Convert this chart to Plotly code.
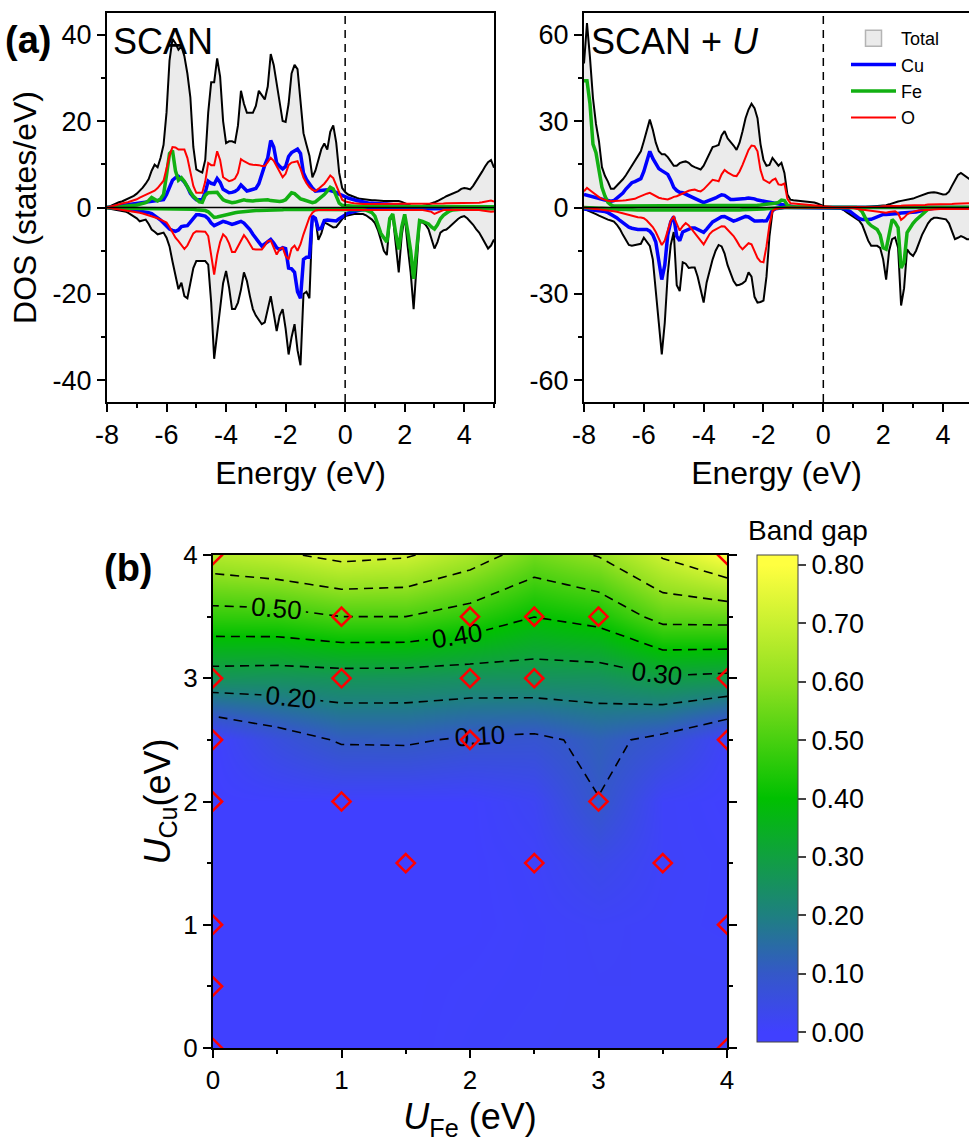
import plotly.graph_objects as go

# ---------------- DATA ----------------
ENERGY = [
    -8.0, -7.9, -7.8, -7.7, -7.6, -7.5, -7.4, -7.3, -7.2, -7.1,
    -7.0, -6.9, -6.8, -6.7, -6.6, -6.5, -6.4, -6.3, -6.2, -6.1,
    -6.0, -5.9, -5.8, -5.7, -5.6, -5.5, -5.4, -5.3, -5.2, -5.1,
    -5.0, -4.9, -4.8, -4.7, -4.6, -4.5, -4.4, -4.3, -4.2, -4.1,
    -4.0, -3.9, -3.8, -3.7, -3.6, -3.5, -3.4, -3.3, -3.2, -3.1,
    -3.0, -2.9, -2.8, -2.7, -2.6, -2.5, -2.4, -2.3, -2.2, -2.1,
    -2.0, -1.9, -1.8, -1.7, -1.6, -1.5, -1.4, -1.3, -1.2, -1.1,
    -1.0, -0.9, -0.8, -0.7, -0.6, -0.5, -0.4, -0.3, -0.2, -0.1,
    0.0, 0.1, 0.2, 0.3, 0.4, 0.5, 0.6, 0.7, 0.8, 0.9,
    1.0, 1.1, 1.2, 1.3, 1.4, 1.5, 1.6, 1.7, 1.8, 1.9,
    2.0, 2.1, 2.2, 2.3, 2.4, 2.5, 2.6, 2.7, 2.8, 2.9,
    3.0, 3.1, 3.2, 3.3, 3.4, 3.5, 3.6, 3.7, 3.8, 3.9,
    4.0, 4.1, 4.2, 4.3, 4.4, 4.5, 4.6, 4.7, 4.8, 4.9, 5.0]

# --- SCAN panel ---
SCAN_TOTAL_UP = [
    0, 0.3, 0.6, 1.0, 1.2, 1.4, 1.7, 2.0, 2.3, 2.7,
    3.2, 3.8, 4.6, 5.5, 6.6, 8.5, 9.9, 9.3, 11.5, 14.5,
    22.0, 34.0, 39.0, 38.0, 36.5, 37.3, 35.0, 31.0, 25.5, 14.0,
    8.8, 8.4, 8.1, 11.0, 22.0, 29.0, 29.0, 34.5, 30.3, 20.0,
    14.9, 15.3, 15.3, 15.0, 19.0, 27.0, 24.0, 21.9, 21.9, 21.9,
    23.5, 27.0, 26.0, 25.0, 28.0, 35.5, 33.0, 28.8, 24.0, 20.0,
    19.8, 24.0, 31.0, 33.0, 32.0, 25.0, 17.2, 14.5, 12.0, 7.0,
    8.5, 11.0, 13.5, 14.8, 13.4, 17.5, 19.0, 15.0, 8.0, 4.5,
    3.6, 3.0, 2.7, 2.5, 2.2, 2.0, 1.9, 1.8, 1.8, 1.7,
    1.7, 1.6, 1.6, 1.5, 1.5, 1.5, 1.5, 1.5, 1.5, 1.3,
    1.0, 0.6, 0.4, 0.3, 0.3, 0.3, 0.4, 0.5, 0.7, 0.9,
    1.2, 1.5, 1.8, 2.2, 2.6, 2.9, 3.2, 3.4, 3.8, 4.3,
    4.5, 4.4, 4.2, 5.0, 6.0, 7.0, 8.3, 9.5, 10.5, 11.0, 9.2]
SCAN_TOTAL_DN = [
    -0.2, -0.3, -0.4, -0.5, -0.6, -0.8, -0.9, -1.2, -1.6, -2.0,
    -2.5, -3.2, -3.0, -2.8, -3.8, -5.1, -5.6, -6.2, -6.0, -5.8,
    -7.0, -9.0, -12.5, -15.5, -18.9, -17.4, -20.5, -21.0, -17.0, -14.0,
    -12.4, -12.4, -12.4, -12.4, -13.2, -22.0, -35.0, -29.0, -23.0, -17.5,
    -14.7, -18.5, -23.5, -23.5, -22.0, -19.0, -15.0, -17.0, -20.5, -23.5,
    -25.0, -26.0, -27.0, -26.6, -23.5, -20.5, -24.5, -28.6, -25.0, -23.5,
    -28.0, -34.0, -30.0, -27.0, -33.0, -36.5, -20.0, -19.5, -21.0, -2.5,
    -2.5, -7.5, -6.0, -3.5, -3.8, -4.3, -4.6, -4.5, -3.5, -2.7,
    -2.0, -1.8, -1.6, -1.5, -1.5, -1.5, -1.5, -1.8, -2.2, -2.8,
    -3.6, -5.2, -7.5, -10.0, -11.0, -3.0, -2.0, -8.0, -15.0, -6.5,
    -1.8, -9.0, -15.0, -23.5, -13.0, -3.5, -3.4, -4.0, -5.0, -7.0,
    -9.5, -8.0, -5.8, -5.3, -5.1, -4.5, -3.8, -3.2, -2.6, -2.2,
    -2.0, -2.5, -3.2, -4.0, -5.0, -5.8, -7.0, -8.4, -9.5, -8.8, -7.4]
SCAN_CU_UP = [
    0, 0.1, 0.2, 0.3, 0.4, 0.5, 0.5, 0.6, 0.7, 0.7,
    0.8, 0.9, 1.0, 1.1, 1.3, 1.4, 1.5, 1.6, 1.7, 1.8,
    3.0, 4.8, 6.3, 6.9, 7.2, 6.6, 5.9, 4.8, 3.3, 2.4,
    1.8, 1.8, 1.8, 3.5, 6.1, 5.6, 5.4, 6.7, 5.8, 4.2,
    3.8, 3.4, 3.5, 3.7, 4.2, 5.2, 4.5, 3.8, 4.0, 4.2,
    4.4, 5.5, 7.8, 9.8, 11.5, 15.5, 14.0, 10.3, 9.5, 8.9,
    9.5, 11.8, 12.7, 13.0, 13.5, 12.5, 8.0, 6.5, 5.4, 4.5,
    3.8, 3.9, 4.1, 4.2, 4.1, 3.9, 3.8, 3.5, 3.1, 2.7,
    2.5, 2.2, 1.9, 1.8, 1.6, 1.4, 1.2, 1.1, 1.0, 1.0,
    0.9, 0.9, 0.8, 0.8, 0.8, 0.7, 0.7, 0.7, 0.6, 0.5,
    0.3, 0.1, 0.1, 0.1, 0.1, 0.1, 0.1, 0.1, 0.1, 0.1,
    0.1, 0.1, 0.1, 0.1, 0.1, 0.1, 0.2, 0.2, 0.2, 0.2,
    0.2, 0.2, 0.2, 0.2, 0.2, 0.2, 0.2, 0.2, 0.2, 0.2, 0.2]
SCAN_CU_DN = [
    0, -0.1, -0.1, -0.2, -0.2, -0.3, -0.3, -0.4, -0.5, -0.6,
    -0.7, -0.8, -0.9, -1.0, -1.2, -1.4, -1.8, -2.4, -2.9, -3.6,
    -4.3, -5.0, -5.3, -5.5, -5.2, -4.4, -4.3, -4.2, -3.4, -2.4,
    -1.7, -1.7, -1.8, -2.0, -2.6, -3.6, -4.2, -3.8, -3.4, -3.2,
    -3.4, -3.7, -3.9, -3.7, -3.4, -3.2, -3.6, -4.3, -5.1, -6.2,
    -7.2, -8.2, -8.9, -8.4, -7.8, -7.4, -8.2, -9.3, -9.7, -9.3,
    -9.5, -14.0, -14.2, -15.0, -19.5, -21.0, -12.0, -11.5, -11.5, -2.0,
    -2.5, -5.0, -4.8, -3.0, -2.9, -3.0, -3.2, -3.1, -2.6, -2.1,
    -1.6, -1.3, -1.1, -0.9, -0.7, -0.6, -0.5, -0.4, -0.4, -0.4,
    -0.4, -0.4, -0.3, -0.3, -0.3, -0.3, -0.3, -0.3, -0.3, -0.3,
    -0.3, -0.2, -0.2, -0.2, -0.2, -0.2, -0.2, -0.2, -0.2, -0.2,
    -0.2, -0.2, -0.2, -0.2, -0.2, -0.2, -0.2, -0.2, -0.2, -0.2,
    -0.2, -0.2, -0.2, -0.2, -0.2, -0.2, -0.2, -0.2, -0.2, -0.2, -0.2]
SCAN_FE_UP = [
    0, 0, 0.1, 0.1, 0.2, 0.2, 0.3, 0.3, 0.4, 0.5,
    0.6, 0.7, 0.9, 1.1, 1.6, 2.3, 1.9, 1.5, 2.0, 3.0,
    7.5, 12.5, 13.2, 8.5, 6.3, 6.9, 6.0, 4.7, 3.6, 2.6,
    1.9, 1.3, 1.2, 2.8, 3.4, 3.4, 3.3, 3.5, 2.6, 1.8,
    1.5, 1.3, 1.1, 1.2, 1.4, 1.7, 1.8, 1.6, 1.5, 1.5,
    1.6, 1.7, 1.8, 1.8, 1.8, 1.6, 1.5, 1.4, 1.4, 1.5,
    1.8, 2.6, 3.4, 3.2, 2.5, 2.0, 1.8, 1.5, 1.2, 1.1,
    1.3, 1.8, 2.3, 3.0, 3.8, 4.7, 4.3, 2.5, 1.0, 0.5,
    0.4, 0.3, 0.3, 0.3, 0.3, 0.3, 0.3, 0.3, 0.3, 0.3,
    0.3, 0.3, 0.3, 0.3, 0.3, 0.3, 0.3, 0.3, 0.3, 0.3,
    0.3, 0.3, 0.3, 0.3, 0.3, 0.2, 0.2, 0.2, 0.2, 0.2,
    0.2, 0.2, 0.2, 0.2, 0.2, 0.2, 0.2, 0.2, 0.2, 0.2,
    0.2, 0.2, 0.2, 0.2, 0.2, 0.2, 0.2, 0.2, 0.2, 0.2, 0.2]
SCAN_FE_DN = [
    0, -0.1, -0.1, -0.1, -0.2, -0.2, -0.2, -0.2, -0.3, -0.3,
    -0.3, -0.3, -0.3, -0.3, -0.3, -0.3, -0.3, -0.3, -0.3, -0.3,
    -0.3, -0.3, -0.3, -0.3, -0.3, -0.3, -0.3, -0.4, -0.4, -0.4,
    -0.5, -0.5, -0.6, -0.7, -1.0, -1.8, -2.3, -2.2, -2.0, -1.8,
    -1.6, -1.5, -1.3, -1.2, -1.1, -1.0, -0.9, -0.9, -0.8, -0.8,
    -0.7, -0.7, -0.7, -0.6, -0.6, -0.6, -0.5, -0.5, -0.5, -0.5,
    -0.4, -0.4, -0.4, -0.4, -0.4, -0.4, -0.4, -0.4, -0.4, -0.3,
    -0.3, -0.3, -0.3, -0.3, -0.3, -0.3, -0.3, -0.3, -0.3, -0.3,
    -0.3, -0.3, -0.3, -0.4, -0.4, -0.4, -0.5, -0.6, -0.8, -1.2,
    -2.0, -4.0, -6.0, -7.0, -8.0, -2.5, -1.5, -6.0, -9.7, -4.5,
    -1.6, -5.5, -10.0, -16.5, -9.0, -3.0, -3.2, -3.4, -3.8, -4.5,
    -5.0, -4.0, -2.6, -1.8, -1.2, -0.8, -0.6, -0.5, -0.4, -0.3,
    -0.3, -0.3, -0.3, -0.3, -0.3, -0.3, -0.3, -0.3, -0.3, -0.3, -0.3]
SCAN_O_UP = [
    0, 0.2, 0.4, 0.6, 0.8, 0.9, 1.1, 1.2, 1.4, 1.6,
    1.9, 2.3, 2.6, 2.9, 3.2, 3.6, 3.9, 4.5, 5.3, 6.2,
    9.0, 12.0, 14.0, 13.9, 13.4, 13.4, 13.4, 11.5, 8.5, 5.0,
    3.4, 3.4, 3.4, 6.0, 10.3, 9.8, 9.8, 13.0, 11.0, 7.0,
    6.5, 6.1, 6.3, 6.7, 8.0, 11.2, 10.7, 10.3, 10.0, 9.9,
    9.9, 9.8, 9.6, 9.6, 10.5, 11.5, 10.8, 9.5, 8.0, 7.0,
    7.8, 9.8, 10.4, 10.5, 10.7, 9.0, 6.9, 5.6, 4.7, 4.1,
    3.8, 4.3, 4.9, 5.5, 6.4, 7.4, 6.8, 5.0, 3.2, 1.8,
    1.4, 1.2, 1.1, 1.0, 0.9, 0.9, 0.8, 0.8, 0.8, 0.8,
    0.8, 0.8, 0.8, 0.8, 0.8, 0.8, 0.8, 0.8, 0.8, 0.8,
    0.8, 0.8, 0.8, 0.8, 0.8, 0.8, 0.8, 0.8, 0.9, 0.9,
    0.9, 0.9, 0.9, 0.9, 1.0, 1.0, 1.0, 1.0, 1.0, 1.0,
    1.0, 1.0, 1.0, 1.0, 1.1, 1.1, 1.2, 1.3, 1.5, 1.6, 1.4]
SCAN_O_DN = [
    0, -0.1, -0.2, -0.3, -0.4, -0.5, -0.6, -0.7, -0.8, -0.9,
    -1.1, -1.2, -1.4, -1.6, -1.8, -2.0, -2.2, -2.5, -2.8, -3.1,
    -3.5, -4.5, -5.8, -7.0, -7.8, -8.8, -9.6, -8.8, -7.3, -6.0,
    -5.5, -5.5, -5.5, -5.6, -6.6, -11.0, -15.5, -11.0, -8.0, -6.2,
    -6.9, -8.3, -10.3, -10.3, -9.0, -7.6, -6.4, -7.3, -8.6, -9.6,
    -9.7, -9.7, -9.7, -8.8, -7.8, -7.6, -9.4, -10.9, -9.6, -9.3,
    -11.2, -12.0, -9.5, -8.8, -10.0, -8.5, -6.2, -4.3, -2.3, -1.2,
    -0.7, -0.6, -0.6, -0.5, -0.5, -0.5, -0.5, -0.5, -0.5, -0.5,
    -0.5, -0.5, -0.5, -0.5, -0.5, -0.5, -0.5, -0.5, -0.5, -0.5,
    -0.5, -0.5, -0.5, -0.5, -0.5, -0.5, -0.5, -0.5, -0.5, -0.5,
    -0.5, -0.5, -0.5, -0.5, -0.5, -0.5, -0.6, -0.7, -0.8, -1.0,
    -1.5, -1.2, -0.8, -0.6, -0.5, -0.5, -0.5, -0.5, -0.5, -0.5,
    -0.5, -0.5, -0.5, -0.5, -0.6, -0.6, -0.7, -0.8, -1.0, -1.0, -0.9]

# --- SCAN + U panel ---
SCANU_TOTAL_UP = [
    50, 64, 52, 38, 29, 23, 14, 11, 9, 6.5,
    6.5, 7.5, 8.5, 9.8, 11.2, 12.8, 14.5, 16, 17.5, 19.5,
    23, 27, 30.5, 27, 22.5, 19.5, 18.5, 18.5, 17.5, 16,
    14.5, 14.5, 15.4, 15.8, 16, 15.5, 14.5, 14, 13.5, 13.2,
    14.5, 16.6, 19, 21, 21.3, 21.7, 25, 26.5, 24, 22.9,
    21.5, 20, 22.5, 26.5, 31, 34, 36, 34.5, 31, 22,
    16.5, 14.5, 14.8, 17.2, 16, 14.5, 15.5, 12, 4.5, 2.7,
    2.5, 2.4, 2.2, 2.1, 2.0, 1.9, 1.8, 1.7, 1.4, 0.9,
    0.4, 0.1, 0, 0, 0, 0, 0, 0, 0, 0,
    0, 0, 0, 0.1, 0.2, 0.3, 0.4, 0.4, 0.5, 0.5,
    0.6, 0.8, 1.1, 1.5, 1.8, 2.1, 2.3, 2.5, 2.7, 2.8,
    3.1, 3.5, 3.9, 4.3, 4.7, 5.0, 5.2, 5.3, 5.1, 4.8,
    4.5, 4.6, 5.5, 7.5, 9.5, 11.3, 12, 11.2, 10.3, 9.5, 9.0]
SCANU_TOTAL_DN = [
    -0.5, -0.9, -1.3, -1.8, -2.3, -2.8, -3.3, -3.8, -4.2, -4.5,
    -4.9, -6.0, -7.5, -9.5, -11.5, -13.0, -13.3, -13.1, -12.9, -12.6,
    -10.5, -12.0, -13.3, -18.0, -28.0, -40.0, -51.0, -40.0, -23.0, -13.0,
    -8.5, -27.0, -29.0, -19.0, -19.5, -21.0, -20.8, -20.8, -24.0, -28.0,
    -33.0, -26.0, -21.5, -18.0, -15.0, -13.0, -13.5, -16.0, -20.0, -23.0,
    -25.5, -27.0, -26.8, -26.3, -25.5, -22.5, -24.0, -31.0, -33.0, -32.8,
    -32.3, -24.0, -10.0, -1.5, -0.5, -0.3, -0.2, -0.1, 0, 0,
    0, 0, 0, 0, 0, 0, 0, 0, 0, 0,
    0, 0, 0, 0, 0, 0, -0.5, -1.0, -1.8, -2.5,
    -3.2, -4.0, -4.6, -6.0, -8.5, -11.5, -13.3, -13.3, -13.3, -14.0,
    -18.0, -25.0, -15.0, -11.0, -10.4, -14.0, -34.0, -28.0, -14.5, -16.0,
    -16.8, -15.0, -12.0, -9.5, -7.5, -5.5, -4.2, -3.6, -3.6, -3.8,
    -4.0, -4.1, -5.5, -8.5, -11.0, -10.5, -9.9, -10.4, -11.0, -11.0, -11.0]
SCANU_CU_UP = [
    4.5, 4.2, 4.0, 3.9, 3.5, 3.2, 2.9, 2.6, 2.4, 2.2,
    2.4, 3.2, 3.9, 5.0, 6.4, 7.5, 8.6, 9.0, 9.4, 10.0,
    12.5, 16.0, 19.5, 17.0, 15.0, 13.5, 12.8, 12.2, 11.5, 9.5,
    7.0, 5.9, 5.3, 5.1, 4.6, 4.1, 3.6, 3.1, 2.5, 1.9,
    1.7, 2.1, 2.4, 2.8, 3.3, 3.9, 4.4, 4.2, 3.4, 2.8,
    2.8, 2.8, 2.8, 2.9, 3.1, 3.3, 3.3, 3.0, 2.6, 2.3,
    2.2, 2.0, 1.8, 1.6, 1.4, 1.2, 1.0, 0.8, 0.6, 0.4,
    0.2, 0.1, 0.1, 0.1, 0.1, 0.1, 0, 0, 0, 0,
    0, 0, 0, 0, 0, 0, 0, 0, 0, 0,
    0, 0, 0, 0, 0, 0, 0, 0, 0, 0,
    0, 0, 0, 0, 0, 0, 0, 0, 0, 0,
    0, 0, 0, 0, 0, 0, 0, 0, 0, 0,
    0, 0, 0, 0, 0, 0, 0, 0, 0, 0, 0]
SCANU_CU_DN = [
    -0.5, -0.6, -0.7, -0.8, -0.9, -1.1, -1.2, -1.4, -1.8, -2.3,
    -3.0, -3.6, -4.5, -5.4, -6.2, -6.8, -7.2, -7.5, -7.6, -7.6,
    -7.6, -7.6, -8.2, -9.5, -12.0, -18.0, -25.0, -20.0, -9.5, -5.0,
    -3.2, -10.0, -11.5, -8.5, -8.0, -7.5, -7.1, -7.1, -7.5, -8.2,
    -8.6, -7.5, -6.2, -5.0, -4.4, -3.8, -3.2, -3.1, -3.6, -4.2,
    -4.7, -4.4, -4.0, -3.5, -3.1, -3.3, -4.2, -4.7, -4.7, -4.7,
    -4.7, -4.6, -2.8, -0.9, -0.4, -0.2, -0.1, 0, 0, 0,
    0, 0, 0, 0, 0, 0, 0, 0, 0, 0,
    0, 0, 0, 0, 0, 0, -0.3, -0.5, -0.8, -1.4,
    -2.2, -3.0, -3.8, -4.2, -4.3, -4.2, -4.1, -3.6, -3.1, -2.7,
    -2.4, -2.4, -2.4, -2.4, -2.3, -2.1, -1.9, -1.8, -1.8, -1.8,
    -1.8, -1.6, -1.3, -1.0, -0.8, -0.6, -0.4, -0.3, -0.2, -0.2,
    -0.2, -0.2, -0.2, -0.2, -0.2, -0.2, -0.2, -0.2, -0.2, -0.2, -0.2]
SCANU_FE_UP = [
    44, 44, 36, 22, 19, 12.5, 7.0, 4.0, 1.8, 0.9,
    0.5, 0.5, 0.5, 0.5, 0.6, 0.6, 0.6, 0.6, 0.6, 0.6,
    0.6, 0.6, 0.6, 0.6, 0.6, 0.6, 0.6, 0.6, 0.6, 0.6,
    0.6, 0.6, 0.6, 0.6, 0.6, 0.6, 0.6, 0.6, 0.6, 0.6,
    0.6, 0.6, 0.6, 0.6, 0.6, 0.6, 0.6, 0.6, 0.6, 0.6,
    0.6, 0.6, 0.6, 0.6, 0.7, 0.7, 0.7, 0.8, 0.8, 0.9,
    1.0, 1.0, 1.1, 1.3, 1.5, 1.8, 2.6, 2.4, 0.8, 0.3,
    0.2, 0.2, 0.2, 0.2, 0.2, 0.1, 0.1, 0.1, 0.1, 0.1,
    0, 0, 0, 0, 0, 0, 0, 0, 0, 0,
    0, 0, 0, 0, 0, 0, 0, 0, 0, 0,
    0, 0, 0, 0, 0, 0, 0, 0, 0, 0,
    0.1, 0.1, 0.1, 0.1, 0.1, 0.1, 0.1, 0.1, 0.1, 0.1,
    0.1, 0.1, 0.1, 0.1, 0.1, 0.1, 0.1, 0.1, 0.1, 0.1, 0.1]
SCANU_FE_DN = [
    0, -0.1, -0.1, -0.2, -0.2, -0.3, -0.3, -0.4, -0.4, -0.5,
    -0.5, -0.6, -0.6, -0.7, -0.7, -0.8, -0.8, -0.8, -0.9, -0.9,
    -0.9, -0.9, -1.0, -1.0, -1.0, -1.0, -1.1, -1.1, -1.1, -1.2,
    -1.2, -1.2, -1.2, -1.2, -1.2, -1.1, -1.1, -1.1, -1.1, -1.1,
    -1.1, -1.0, -1.0, -1.0, -1.0, -1.0, -1.0, -1.0, -1.0, -1.0,
    -1.0, -0.9, -0.9, -0.8, -0.8, -0.7, -0.7, -0.6, -0.6, -0.6,
    -0.5, -0.4, -0.3, -0.2, -0.1, 0, 0, 0, 0, 0,
    0, 0, 0, 0, 0, 0, 0, 0, 0, 0,
    0, 0, 0, 0, 0, 0, 0, 0, 0, 0,
    0, 0, -0.5, -1.5, -3.5, -5.3, -6.3, -7.0, -7.6, -9.5,
    -14.0, -14.5, -8.5, -4.2, -5.2, -7.0, -21.0, -19.0, -8.7, -7.0,
    -5.5, -4.3, -3.3, -2.2, -1.2, -0.6, -0.3, -0.1, -0.1, -0.1,
    -0.1, -0.1, -0.1, -0.1, -0.1, -0.1, -0.1, -0.1, -0.1, -0.1, -0.1]
SCANU_O_UP = [
    5.6, 6.8, 6.0, 5.1, 4.3, 3.6, 3.0, 2.6, 2.3, 2.2,
    2.2, 2.2, 2.2, 2.4, 2.5, 2.6, 2.7, 3.0, 3.5, 4.0,
    4.5, 4.8, 5.1, 4.5, 3.8, 3.4, 3.1, 2.9, 2.8, 3.2,
    3.7, 3.9, 4.4, 5.0, 5.5, 5.8, 6.1, 6.2, 5.8, 5.6,
    6.3, 7.4, 8.5, 9.6, 9.4, 9.1, 11.5, 13.0, 12.2, 11.5,
    11.0, 10.9, 12.5, 14.8, 17.5, 20.0, 21.5, 21.3, 19.5, 13.0,
    9.7, 9.0, 8.5, 9.5, 10.0, 8.0, 7.8, 8.3, 3.0, 1.5,
    1.4, 1.3, 1.2, 1.1, 1.0, 0.9, 0.8, 0.7, 0.6, 0.5,
    0.4, 0.2, 0.1, 0.1, 0.1, 0.1, 0.1, 0.1, 0.1, 0.1,
    0.1, 0.1, 0.1, 0.2, 0.2, 0.2, 0.2, 0.3, 0.3, 0.3,
    0.4, 0.4, 0.5, 0.5, 0.5, 0.6, 0.6, 0.7, 0.7, 0.8,
    0.8, 0.8, 0.9, 0.9, 0.9, 1.0, 1.0, 1.0, 1.1, 1.1,
    1.1, 1.1, 1.2, 1.2, 1.3, 1.3, 1.4, 1.4, 1.5, 1.5, 1.5]
SCANU_O_DN = [
    0, -0.2, -0.3, -0.4, -0.5, -0.6, -0.7, -0.8, -0.9, -1.0,
    -1.3, -1.5, -1.8, -2.1, -2.4, -2.6, -2.9, -3.2, -3.4, -3.5,
    -3.7, -4.5, -5.5, -6.8, -8.5, -11.0, -13.0, -11.5, -8.0, -4.5,
    -3.2, -5.5, -8.0, -6.5, -5.4, -6.2, -7.5, -8.5, -10.0, -11.5,
    -12.8, -11.0, -9.2, -8.2, -7.6, -7.0, -6.5, -6.6, -7.8, -9.0,
    -9.9, -11.5, -13.3, -14.5, -13.5, -12.4, -12.8, -15.5, -17.5, -18.8,
    -19.0, -13.5, -6.0, -1.2, -0.5, -0.3, -0.2, 0, 0, 0,
    0, 0, 0, 0, 0, 0, 0, 0, 0, 0,
    0, 0, 0, 0, 0, 0, -0.1, -0.1, -0.1, -0.2,
    -0.2, -0.4, -0.7, -0.8, -0.9, -1.0, -1.1, -1.2, -1.4, -1.5,
    -1.6, -1.8, -1.6, -1.4, -1.3, -2.0, -4.3, -3.5, -2.4, -1.8,
    -1.4, -1.2, -1.0, -0.9, -0.8, -0.7, -0.6, -0.6, -0.5, -0.5,
    -0.5, -0.5, -0.5, -0.5, -0.5, -0.5, -0.5, -0.5, -0.5, -0.5, -0.5]

# --- Band-gap map (b) ---
U_FE = [0, 0.5, 1.0, 1.5, 2.0, 2.5, 3.0, 3.5, 4.0]
U_CU = [0, 0.5, 1.0, 1.5, 2.0, 2.5, 3.0, 3.5, 4.0]
BAND_GAP = [  # rows: U_Cu, columns: U_Fe
    [0, 0, 0, 0, 0.005, 0.008, 0.01, 0.01, 0.01],
    [0, 0, 0, 0, 0.003, 0.006, 0.01, 0.01, 0.01],
    [0, 0, 0, 0, 0, 0.005, 0.012, 0.008, 0.005],
    [0, 0, 0, 0, 0, 0.008, 0.04, 0.01, 0.005],
    [0, 0, 0, 0, 0, 0.02, 0.098, 0.01, 0],
    [0, 0.06, 0.108, 0.11, 0.09, 0.083, 0.12, 0.08, 0.01],
    [0.26, 0.255, 0.262, 0.26, 0.252, 0.254, 0.255, 0.29, 0.279],
    [0.466, 0.47, 0.50, 0.50, 0.46, 0.401, 0.43, 0.53, 0.535],
    [0.658, 0.685, 0.725, 0.71, 0.645, 0.556, 0.605, 0.71, 0.798],
]
CALC_FE = [0, 0, 0, 0, 0, 0, 0, 1, 1, 1, 1.5, 2, 2, 2, 2.5, 2.5, 2.5, 3, 3, 3.5, 4, 4, 4, 4, 4]
CALC_CU = [0, 0.5, 1, 2, 2.5, 3, 4, 2, 3, 3.5, 1.5, 2.5, 3, 3.5, 1.5, 3, 3.5, 2, 3.5, 1.5, 0, 1, 2.5, 3, 4]

CB_VALUES = [0.0, 0.1, 0.2, 0.3, 0.4, 0.5, 0.6, 0.7, 0.8]
CB_COLORS = ['#4040ff', '#3458c8', '#1e8080', '#10a040', '#00c000',
             '#48d010', '#90e020', '#c8f030', '#ffff40']
CB_TICKTEXT = ['0.00', '0.10', '0.20', '0.30', '0.40', '0.50', '0.60', '0.70', '0.80']
ZMIN, ZMAX = -0.017, 0.817

E_TICKS = [-8, -6, -4, -2, 0, 2, 4]
E_TICKTEXT = ['-8', '-6', '-4', '-2', '0', '2', '4']
DOS_TICKS_L = [-40, -20, 0, 20, 40]
DOS_TICKTEXT_L = ['-40', '-20', '0', '20', '40']
DOS_TICKS_R = [-60, -30, 0, 30, 60]
DOS_TICKTEXT_R = ['-60', '-30', '0', '30', '60']
U_TICKS = [0, 1, 2, 3, 4]
U_TICKTEXT = ['0', '1', '2', '3', '4']

# ---------------- FIGURE ----------------
W, H = 969, 1144
FONT = "Liberation Sans, Arial, Helvetica, sans-serif"


def fx(p):
    return p / W


def fy(p):
    return 1 - p / H


CU_COLOR, FE_COLOR, O_COLOR = '#0000ff', '#12b012', '#ff0000'
FILL = '#ebebeb'

fig = go.Figure()


def add_dos(xa, ya, tu, td, cu_u, cu_d, fe_u, fe_d, o_u, o_d):
    for tot in (tu, td):
        fig.add_trace(go.Scatter(x=ENERGY, y=tot, mode='lines', fill='tozeroy',
                                 fillcolor=FILL, line=dict(color='black', width=2),
                                 showlegend=False, xaxis=xa, yaxis=ya, hoverinfo='skip'))
    for up, dn, col, w in ((cu_u, cu_d, CU_COLOR, 3.5), (fe_u, fe_d, FE_COLOR, 3.5),
                           (o_u, o_d, O_COLOR, 2)):
        for arr in (up, dn):
            fig.add_trace(go.Scatter(x=ENERGY, y=arr, mode='lines',
                                     line=dict(color=col, width=w),
                                     showlegend=False, xaxis=xa, yaxis=ya, hoverinfo='skip'))


add_dos('x', 'y', SCAN_TOTAL_UP, SCAN_TOTAL_DN, SCAN_CU_UP, SCAN_CU_DN,
        SCAN_FE_UP, SCAN_FE_DN, SCAN_O_UP, SCAN_O_DN)
add_dos('x2', 'y2', SCANU_TOTAL_UP, SCANU_TOTAL_DN, SCANU_CU_UP, SCANU_CU_DN,
        SCANU_FE_UP, SCANU_FE_DN, SCANU_O_UP, SCANU_O_DN)

# legend-only entries
fig.add_trace(go.Scatter(x=[None], y=[None], mode='markers', name='Total',
                         marker=dict(symbol='square', size=16, color=FILL,
                                     line=dict(color='#b4b4b4', width=1.5)),
                         xaxis='x2', yaxis='y2'))
for nm, col, w in (('Cu', CU_COLOR, 3.5), ('Fe', FE_COLOR, 3.5), ('O', O_COLOR, 2)):
    fig.add_trace(go.Scatter(x=[None], y=[None], mode='lines', name=nm,
                             line=dict(color=col, width=w), xaxis='x2', yaxis='y2'))

# band-gap map
span = ZMAX - ZMIN
cscale = [[0.0, CB_COLORS[0]]]
for v, c in zip(CB_VALUES, CB_COLORS):
    cscale.append([(v - ZMIN) / span, c])
cscale.append([1.0, CB_COLORS[-1]])

fig.add_trace(go.Heatmap(
    x=U_FE, y=U_CU, z=BAND_GAP, zsmooth='best', colorscale=cscale, zmin=ZMIN, zmax=ZMAX,
    xaxis='x3', yaxis='y3', hoverinfo='skip', showlegend=False,
    colorbar=dict(x=fx(757), xanchor='left', y=fy(798.5), yanchor='middle',
                  len=487 / H, lenmode='fraction', thickness=41, thicknessmode='pixels',
                  xpad=0, ypad=0, outlinewidth=1, outlinecolor='#444444',
                  tickmode='array', tickvals=CB_VALUES, ticktext=CB_TICKTEXT,
                  ticks='outside', ticklen=8, tickwidth=1.5, tickcolor='#444444',
                  tickfont=dict(size=27, family=FONT, color='black'))))

for start, end, labels in ((0.1, 0.5, True), (0.6, 0.7, False)):
    fig.add_trace(go.Contour(
        x=U_FE, y=U_CU, z=BAND_GAP, autocontour=False, showscale=False, showlegend=False,
        contours=dict(start=start, end=end, size=0.1, coloring='none', showlabels=labels,
                      labelfont=dict(size=26, family=FONT, color='black'), labelformat='.2f'),
        line=dict(color='black', width=1.6, dash='9px,6px', smoothing=0),
        xaxis='x3', yaxis='y3', hoverinfo='skip'))

fig.add_trace(go.Scatter(x=CALC_FE, y=CALC_CU, mode='markers', cliponaxis=True,
                         marker=dict(symbol='diamond-open', size=14, color='red',
                                     line=dict(color='red', width=2.5)),
                         showlegend=False, xaxis='x3', yaxis='y3', hoverinfo='skip'))

# ---------------- AXES ----------------
TICKFONT = dict(size=27, family=FONT, color='black')
TICKFONT_B = dict(size=26, family=FONT, color='black')
TITLEFONT = dict(size=32, family=FONT, color='black')
TITLEFONT_B = dict(size=36, family=FONT, color='black')


def main_axis(**kw):
    d = dict(showline=True, linewidth=2, linecolor='black', mirror=True,
             ticks='outside', ticklen=8, tickwidth=2, tickcolor='black',
             showgrid=False, zeroline=False, tickfont=TICKFONT, automargin=False,
             tickmode='array')
    d.update(kw)
    return d


def overlay_axis(**kw):
    d = dict(showline=False, showgrid=False, zeroline=False, showticklabels=False,
             ticks='inside', ticklen=8, tickwidth=2, tickcolor='black', automargin=False)
    d.update(kw)
    return d


yd_top = [fy(402), fy(13)]
xd_l = [fx(107), fx(494)]
xd_r = [fx(584), 1.0]
xd_b = [fx(213), fx(727)]
yd_b = [fy(1048), fy(555)]


def minor_out(dt):
    return dict(ticks='outside', ticklen=4, tickwidth=2, tickcolor='black', dtick=dt, tick0=0,
                showgrid=False)


def minor_in(dt):
    return dict(ticks='inside', ticklen=4, tickwidth=2, tickcolor='black', dtick=dt, tick0=0,
                showgrid=False)


fig.update_layout(
    xaxis=main_axis(domain=xd_l, anchor='y', range=[-8, 5], tickvals=E_TICKS, ticktext=E_TICKTEXT,
                    minor=minor_out(1),
                    title=dict(text='Energy (eV)', font=TITLEFONT, standoff=12)),
    yaxis=main_axis(domain=yd_top, anchor='x', range=[-45, 45], tickvals=DOS_TICKS_L,
                    ticktext=DOS_TICKTEXT_L, minor=minor_out(10),
                    title=dict(text='DOS (states/eV)', font=TITLEFONT, standoff=6)),
    xaxis2=main_axis(domain=xd_r, anchor='y2', range=[-8, 4.87], tickvals=E_TICKS, ticktext=E_TICKTEXT,
                     minor=minor_out(1),
                     title=dict(text='Energy (eV)', font=TITLEFONT, standoff=12)),
    yaxis2=main_axis(domain=yd_top, anchor='x2', range=[-67.5, 67.5], tickvals=DOS_TICKS_R,
                     ticktext=DOS_TICKTEXT_R, minor=minor_out(15)),
    xaxis3=main_axis(domain=xd_b, anchor='y3', range=[0, 4], tickvals=U_TICKS, ticktext=U_TICKTEXT,
                     minor=minor_out(0.5), tickfont=TICKFONT_B,
                     title=dict(text='<i>U</i><sub>Fe</sub> (eV)', font=TITLEFONT_B, standoff=10)),
    yaxis3=main_axis(domain=yd_b, anchor='x3', range=[0, 4], tickvals=U_TICKS, ticktext=U_TICKTEXT,
                     minor=minor_out(0.5), mirror='ticks', tickfont=TICKFONT_B,
                     title=dict(text='<i>U</i><sub>Cu</sub>(eV)', font=TITLEFONT_B, standoff=2)),
    xaxis4=overlay_axis(overlaying='x', anchor='y', side='top', range=[-8, 5], tickmode='linear',
                        tick0=-8, dtick=2, minor=minor_in(1)),
    yaxis4=overlay_axis(overlaying='y', anchor='x', side='right', range=[-45, 45], tickmode='linear',
                        tick0=0, dtick=10),
    xaxis5=overlay_axis(overlaying='x2', anchor='y2', side='top', range=[-8, 4.87], tickmode='linear',
                        tick0=-8, dtick=2, minor=minor_in(1)),
    yaxis5=overlay_axis(overlaying='y2', anchor='x2', side='right', range=[-67.5, 67.5],
                        tickmode='linear', tick0=0, dtick=15),
    xaxis6=overlay_axis(overlaying='x3', anchor='y3', side='top', range=[0, 4], tickmode='linear',
                        tick0=0, dtick=0.5, ticklen=6),
)

fig.update_layout(
    width=W, height=H, template='none',
    margin=dict(l=0, r=0, t=0, b=0, pad=0),
    paper_bgcolor='white', plot_bgcolor='rgba(0,0,0,0)',
    font=dict(family=FONT, color='black'),
    showlegend=True,
    legend=dict(x=fx(846), y=fy(20), xanchor='left', yanchor='top', itemwidth=45,
                font=dict(size=18, family=FONT, color='black'),
                bgcolor='rgba(0,0,0,0)', borderwidth=0, tracegroupgap=0),
    shapes=[
        dict(type='line', xref='x domain', yref='y', x0=0, x1=1, y0=0, y1=0,
             line=dict(color='black', width=1.5), layer='above'),
        dict(type='line', xref='x2 domain', yref='y2', x0=0, x1=1, y0=0, y1=0,
             line=dict(color='black', width=1.5), layer='above'),
        dict(type='line', xref='x', yref='y domain', x0=0, x1=0, y0=0, y1=1,
             line=dict(color='black', width=1.5, dash='8px,6px'), layer='above'),
        dict(type='line', xref='x2', yref='y2 domain', x0=0, x1=0, y0=0, y1=1,
             line=dict(color='black', width=1.5, dash='8px,6px'), layer='above'),
    ],
    annotations=[
        dict(text='<b>(a)</b>', x=fx(3), y=fy(40), xref='paper', yref='paper',
             xanchor='left', yanchor='middle', showarrow=False,
             font=dict(size=38, family=FONT, color='black')),
        dict(text='SCAN', x=fx(111), y=fy(42), xref='paper', yref='paper',
             xanchor='left', yanchor='middle', showarrow=False,
             font=dict(size=36, family=FONT, color='black')),
        dict(text='SCAN + <i>U</i>', x=fx(589), y=fy(42), xref='paper', yref='paper',
             xanchor='left', yanchor='middle', showarrow=False,
             font=dict(size=36, family=FONT, color='black')),
        dict(text='<b>(b)</b>', x=fx(102), y=fy(568), xref='paper', yref='paper',
             xanchor='left', yanchor='middle', showarrow=False,
             font=dict(size=38, family=FONT, color='black')),
        dict(text='Band gap', x=fx(746), y=fy(530), xref='paper', yref='paper',
             xanchor='left', yanchor='middle', showarrow=False,
             font=dict(size=28, family=FONT, color='black')),
    ],
)

fig.write_html("out.html", config={'displayModeBar': False},
               post_script="document.body.style.margin='0px';")
